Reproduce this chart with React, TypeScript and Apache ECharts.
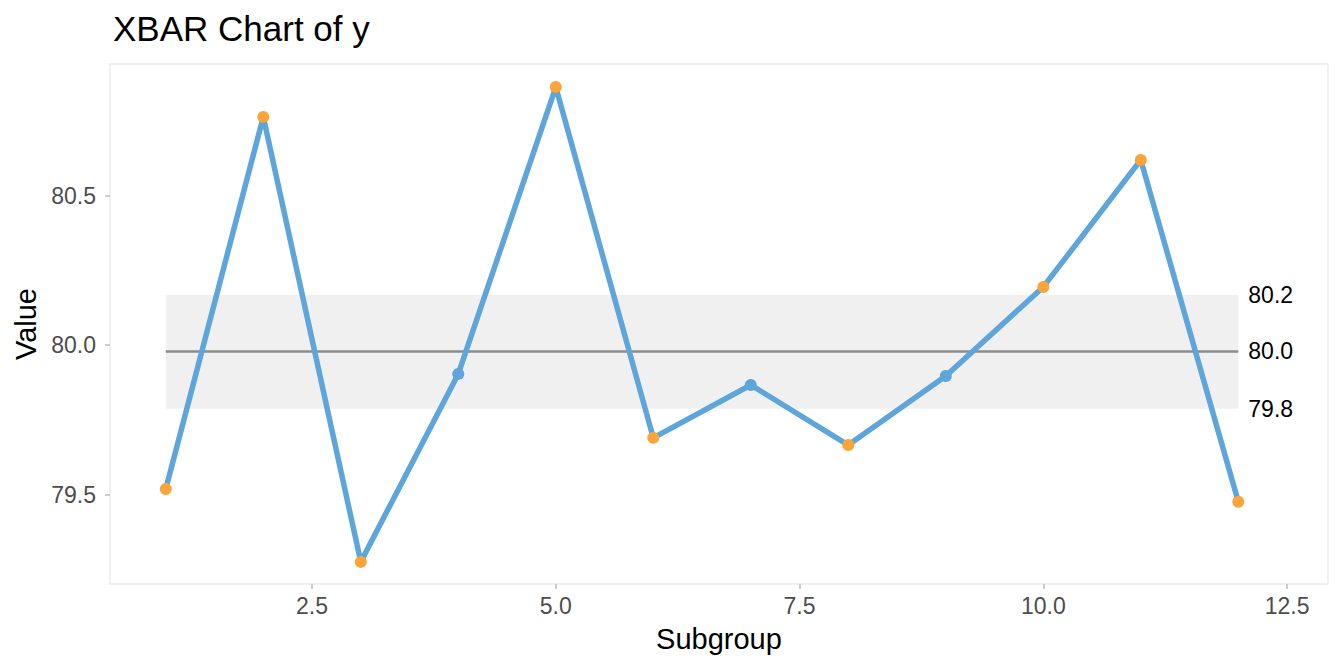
import { useEffect, useRef } from 'react';
import * as echarts from 'echarts';

const subgroups = [1, 2, 3, 4, 5, 6, 7, 8, 9, 10, 11, 12];
const means = [79.519, 80.764, 79.275, 79.904, 80.864, 79.69, 79.867, 79.666, 79.897, 80.195, 80.62, 79.476];
const centerLine = 79.979;
const upperLimit = 80.168;
const lowerLimit = 79.787;
const xTicks = [2.5, 5.0, 7.5, 10.0, 12.5];
const yTicks = [79.5, 80.0, 80.5];

const BLUE = '#5DA5DA';
const ORANGE = '#FAA43A';
const FONT = '"Liberation Sans", Arial, sans-serif';

export default function App() {
  const chartRef = useRef<HTMLDivElement>(null);

  useEffect(() => {
    if (!chartRef.current) return;
    const chart = echarts.init(chartRef.current, undefined, { renderer: 'svg' });
    const first = subgroups[0];
    const last = subgroups[subgroups.length - 1];

    // limit line from first to last subgroup, labelled at its right end
    const limit = (value: number, visible: boolean) => [
      {
        name: value.toFixed(1),
        coord: [first, value],
        lineStyle: { color: visible ? '#8c8c8c' : 'rgba(0,0,0,0)' },
      },
      { coord: [last, value] },
    ];

    chart.setOption({
      animation: false,
      backgroundColor: '#ffffff',
      textStyle: { fontFamily: FONT },
      title: {
        text: 'XBAR Chart of y',
        left: 108,
        top: 6,
        textStyle: { fontFamily: FONT, fontSize: 35, fontWeight: 'normal', color: '#000000' },
      },
      grid: {
        left: 110,
        right: 16,
        top: 64,
        bottom: 88,
        show: true,
        borderColor: '#ebebeb',
        borderWidth: 1.5,
        backgroundColor: '#ffffff',
      },
      xAxis: {
        type: 'value',
        min: 0.428,
        max: 12.92,
        name: 'Subgroup',
        nameLocation: 'middle',
        nameGap: 40,
        nameTextStyle: { fontFamily: FONT, fontSize: 29, color: '#000000' },
        axisLine: { show: false },
        splitLine: { show: false },
        axisTick: {
          show: true,
          customValues: xTicks,
          length: 5,
          lineStyle: { color: '#cccccc', width: 2 },
        },
        axisLabel: {
          customValues: xTicks,
          margin: 10,
          fontFamily: FONT,
          fontSize: 23,
          color: '#4d4d4d',
          formatter: (v: number) => v.toFixed(1),
        },
      },
      yAxis: {
        type: 'value',
        min: 79.201,
        max: 80.941,
        name: 'Value',
        nameLocation: 'middle',
        nameGap: 70,
        nameTextStyle: { fontFamily: FONT, fontSize: 29, color: '#000000' },
        axisLine: { show: false },
        splitLine: { show: false },
        axisTick: {
          show: true,
          customValues: yTicks,
          length: 5,
          lineStyle: { color: '#cccccc', width: 2 },
        },
        axisLabel: {
          customValues: yTicks,
          margin: 14,
          fontFamily: FONT,
          fontSize: 23,
          color: '#4d4d4d',
          formatter: (v: number) => v.toFixed(1),
        },
      },
      series: [
        {
          type: 'line',
          data: subgroups.map((x, i) => ({
            value: [x, means[i]],
            itemStyle: {
              color: means[i] > upperLimit || means[i] < lowerLimit ? ORANGE : BLUE,
            },
          })),
          lineStyle: { color: BLUE, width: 5.5 },
          symbol: 'circle',
          symbolSize: 12,
          z: 5,
          markArea: {
            silent: true,
            itemStyle: { color: '#f0f0f0' },
            data: [[{ coord: [first, lowerLimit] }, { coord: [last, upperLimit] }]],
          },
          markLine: {
            silent: true,
            symbol: 'none',
            lineStyle: { width: 2.5, type: 'solid' },
            label: {
              show: true,
              position: 'end',
              distance: 10,
              fontFamily: FONT,
              fontSize: 23,
              color: '#000000',
              formatter: '{b}',
            },
            data: [limit(upperLimit, false), limit(centerLine, true), limit(lowerLimit, false)],
          },
        },
      ],
    });

    return () => chart.dispose();
  }, []);

  return (
    <div
      ref={chartRef}
      style={{ position: 'fixed', left: 0, top: 0, width: 1344, height: 672 }}
    />
  );
}
